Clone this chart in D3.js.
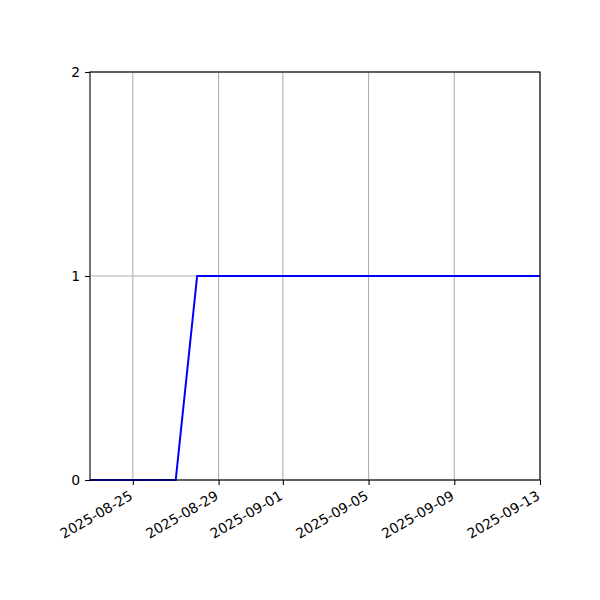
<!DOCTYPE html>
<html>
<head>
<meta charset="utf-8">
<script src="https://cdn.jsdelivr.net/npm/d3@7"></script>
<style>
  body { margin: 0; background: #fff; }
  text { font-family: "DejaVu Sans", sans-serif; }
</style>
</head>
<body>
<svg width="600" height="600"></svg>
<script>
// daily values
const dates = ['2025-08-23','2025-08-24','2025-08-25','2025-08-26','2025-08-27',
  '2025-08-28','2025-08-29','2025-08-30','2025-08-31','2025-09-01','2025-09-02',
  '2025-09-03','2025-09-04','2025-09-05','2025-09-06','2025-09-07','2025-09-08',
  '2025-09-09','2025-09-10','2025-09-11','2025-09-12','2025-09-13'];
const values = [0,0,0,0,0, 1,1,1,1,1,1, 1,1,1,1,1,1, 1,1,1,1,1];
const xTickLabels = ['2025-08-25','2025-08-29','2025-09-01','2025-09-05','2025-09-09','2025-09-13'];
const yTicks = [0, 1, 2];

const svg = d3.select('svg');
const margin = {top: 72, right: 60, bottom: 120, left: 90};
const width = +svg.attr('width');
const height = +svg.attr('height');
const innerWidth = width - margin.left - margin.right;
const innerHeight = height - margin.top - margin.bottom;

const parse = d3.utcParse('%Y-%m-%d');
const data = dates.map((d, i) => ({date: parse(d), value: values[i]}));

const xScale = d3.scaleUtc()
  .domain(d3.extent(data, d => d.date))
  .range([0, innerWidth]);

const yScale = d3.scaleLinear()
  .domain([0, 2])
  .range([innerHeight, 0]);

const g = svg.append('g')
  .attr('transform', `translate(${margin.left},${margin.top})`);

// grid lines
g.append('g')
  .selectAll('line')
  .data(xTickLabels.map(parse))
  .enter().append('line')
  .attr('x1', d => xScale(d)).attr('x2', d => xScale(d))
  .attr('y1', 0).attr('y2', innerHeight)
  .attr('stroke', '#b0b0b0').attr('stroke-width', 1.1);

g.append('g')
  .selectAll('line')
  .data(yTicks)
  .enter().append('line')
  .attr('x1', 0).attr('x2', innerWidth)
  .attr('y1', d => yScale(d)).attr('y2', d => yScale(d))
  .attr('stroke', '#b0b0b0').attr('stroke-width', 1.1);

// line
const line = d3.line()
  .x(d => xScale(d.date))
  .y(d => yScale(d.value));

g.append('path')
  .datum(data)
  .attr('fill', 'none')
  .attr('stroke', '#0000ff')
  .attr('stroke-width', 2)
  .attr('d', line);

// axes
const xAxis = d3.axisBottom(xScale)
  .tickValues(xTickLabels.map(parse))
  .tickFormat(d3.utcFormat('%Y-%m-%d'))
  .tickSize(4.9)
  .tickPadding(4.9);

const xAxisG = g.append('g')
  .attr('transform', `translate(0,${innerHeight})`)
  .call(xAxis);
xAxisG.select('.domain').remove();
xAxisG.selectAll('.tick line').attr('stroke', '#000').attr('stroke-width', 1.1);
// rotated labels, right end pinned under the tick
xAxisG.selectAll('.tick text')
  .attr('font-size', '13.9px')
  .attr('fill', '#000')
  .attr('text-anchor', 'end')
  .attr('x', 0)
  .attr('y', 0)
  .attr('dy', '0.76em')
  .attr('transform', 'translate(-5,9.5) rotate(-30)');

const yAxis = d3.axisLeft(yScale)
  .tickValues(yTicks)
  .tickFormat(d3.format('d'))
  .tickSize(4.9)
  .tickPadding(4.9);

const yAxisG = g.append('g').call(yAxis);
yAxisG.select('.domain').remove();
yAxisG.selectAll('.tick line').attr('stroke', '#000').attr('stroke-width', 1.1);
yAxisG.selectAll('.tick text').attr('font-size', '13.9px').attr('fill', '#000');

// frame
g.append('rect')
  .attr('width', innerWidth)
  .attr('height', innerHeight)
  .attr('fill', 'none')
  .attr('stroke', '#000')
  .attr('stroke-width', 1.1);
</script>
</body>
</html>
